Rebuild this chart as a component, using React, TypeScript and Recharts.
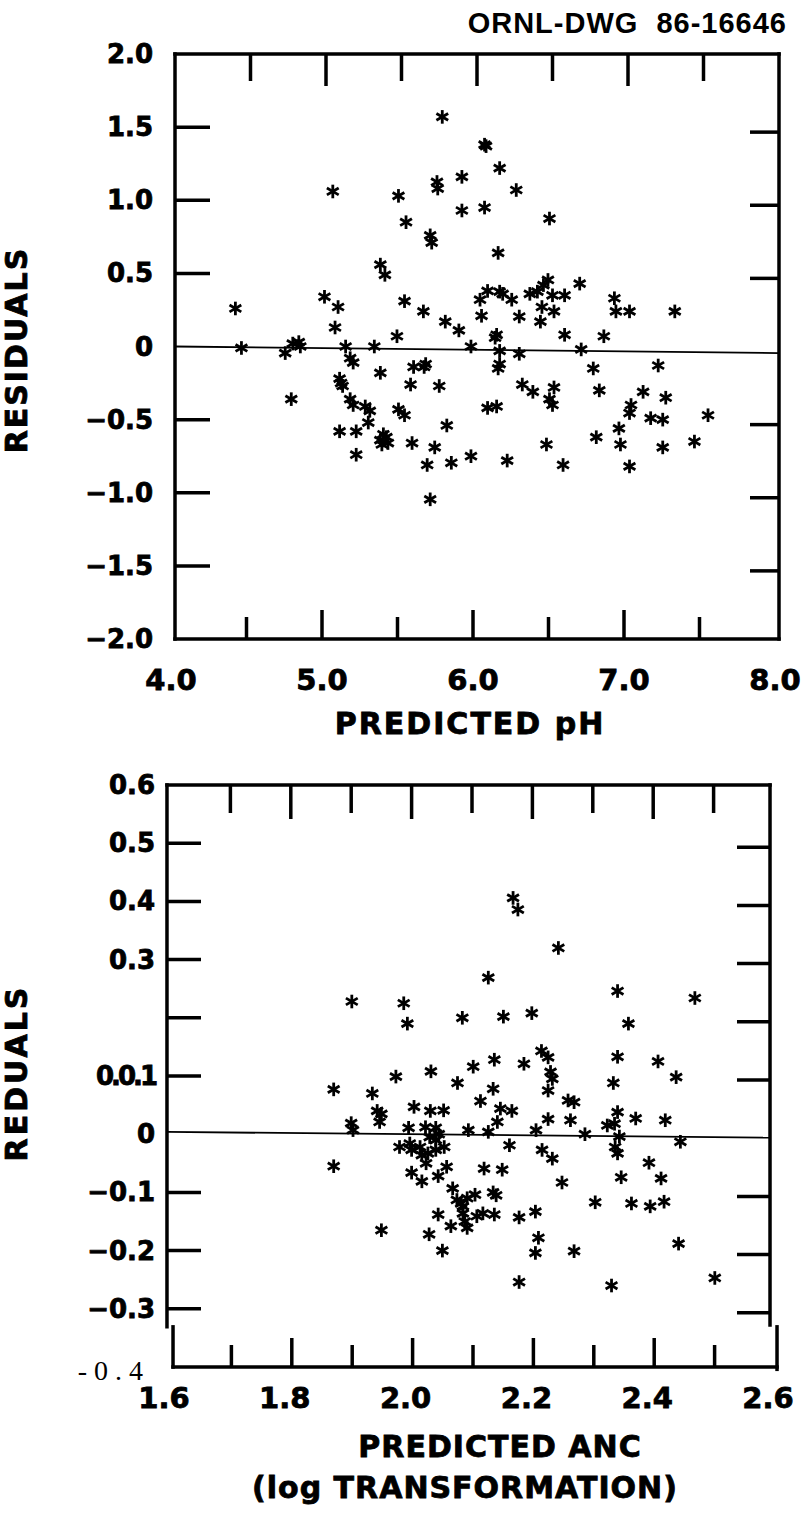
import React from 'react';
import { ScatterChart, Scatter, XAxis, YAxis, ReferenceLine } from 'recharts';

// ---------- DATA: top panel (predicted pH vs residuals) ----------
const phPredicted = [
  5.77, 6.05, 6.06, 6.15, 5.9, 5.735, 5.74, 6.26, 5.045, 5.48, 5.9, 6.05, 6.48, 5.53, 5.69, 5.7,
  6.14, 5.36, 5.39, 6.47, 6.44, 6.68, 6.07, 6.15, 6.17, 6.35, 6.4, 6.5, 6.58, 6.02, 6.23, 4.99,
  5.08, 5.52, 4.4, 6.91, 6.92, 7.01, 7.31, 6.43, 6.51, 5.645, 6.03, 6.28, 5.79, 6.42, 5.06, 5.88,
  6.13, 6.12, 5.47, 6.58, 6.84, 4.44, 4.78, 4.82, 4.83, 5.13, 5.32, 5.96, 6.15, 6.28, 6.69,
  4.73, 5.16, 5.18, 6.15, 6.14, 6.77, 7.2, 5.36, 5.58, 5.65, 5.66, 5.09, 5.1, 5.11, 5.56, 5.75,
  4.77, 6.3, 6.37, 6.51, 6.48, 6.5, 6.81, 7.1, 7.25, 5.16, 5.18, 5.26, 5.29, 5.48, 5.52, 5.28,
  6.07, 6.13, 7.02, 7.01, 7.15, 7.23, 7.53, 5.09, 5.2, 5.38, 5.4, 5.36, 5.37, 5.41, 5.57, 5.8,
  5.72, 6.94, 6.95, 6.79, 6.46, 7.23, 7.44, 5.2, 5.67, 5.83, 5.96, 6.2, 6.57, 7.01, 5.69,
];
const phResiduals = [
  1.57, 1.38, 1.37, 1.22, 1.16, 1.125, 1.08, 1.07, 1.06, 1.03, 0.93, 0.95, 0.875, 0.85, 0.76, 0.71,
  0.64, 0.56, 0.49, 0.455, 0.42, 0.43, 0.38, 0.375, 0.36, 0.36, 0.375, 0.35, 0.35, 0.32, 0.32, 0.34,
  0.27, 0.31, 0.26, 0.33, 0.24, 0.24, 0.24, 0.27, 0.24, 0.24, 0.21, 0.205, 0.17, 0.17, 0.13, 0.11,
  0.08, 0.06, 0.07, 0.08, 0.07, -0.01, 0.02, 0.03, 0.0, 0.0, 0.0, 0.0, -0.03, -0.05, -0.02,
  -0.045, -0.08, -0.11, -0.12, -0.15, -0.15, -0.13, -0.18, -0.14, -0.14, -0.12, -0.22, -0.25, -0.27, -0.26, -0.27,
  -0.36, -0.26, -0.31, -0.28, -0.36, -0.4, -0.3, -0.31, -0.35, -0.36, -0.4, -0.41, -0.44, -0.43, -0.47, -0.52,
  -0.42, -0.41, -0.4, -0.455, -0.49, -0.5, -0.47, -0.58, -0.58, -0.6, -0.62, -0.64, -0.67, -0.66, -0.66, -0.54,
  -0.69, -0.56, -0.67, -0.62, -0.67, -0.69, -0.65, -0.74, -0.81, -0.795, -0.75, -0.78, -0.81, -0.82, -1.045,
];

// ---------- DATA: bottom panel (predicted ANC, log) ----------
const ancPredicted = [
  2.168, 2.176, 2.243, 2.127, 2.341, 1.901, 1.987, 1.993, 2.469, 2.084, 2.152, 2.199, 2.359, 2.215, 2.226,
  2.341, 2.408, 2.137, 2.102, 2.186, 2.032, 1.974, 2.23, 2.233, 2.438, 2.076, 2.334, 1.871, 1.935, 2.135,
  2.226, 2.114, 2.259, 2.269, 1.943, 1.95, 1.947, 2.004, 2.031, 2.053, 2.147, 2.166, 2.341, 2.371, 2.42,
  2.226, 2.263, 2.142, 2.324, 2.336, 1.9, 1.903, 1.995, 2.023, 2.04, 2.094, 2.127, 2.206, 2.287, 2.344,
  2.445, 1.98, 1.997, 2.014, 2.027, 2.04, 2.054, 2.017, 2.024, 2.04, 2.0, 2.03, 2.045, 2.162, 2.216,
  2.233, 2.337, 2.341, 1.871, 2.058, 2.0, 2.017, 2.044, 2.12, 2.15, 2.393, 2.347, 2.413, 2.249, 2.068,
  2.075, 2.082, 2.092, 2.085, 2.105, 2.135, 2.14, 2.304, 2.364, 2.395, 2.418, 2.044, 2.085, 2.088, 2.108,
  2.118, 2.137, 2.178, 2.205, 2.065, 2.092, 1.95, 2.029, 2.21, 2.051, 2.205, 2.269, 2.442, 2.178, 2.331,
  2.502,
];
const ancResiduals = [
  0.406, 0.386, 0.32, 0.269, 0.246, 0.228, 0.225, 0.19, 0.234, 0.2, 0.202, 0.208, 0.19, 0.143, 0.132,
  0.133, 0.125, 0.128, 0.116, 0.121, 0.108, 0.099, 0.107, 0.095, 0.098, 0.088, 0.088, 0.077, 0.07, 0.078,
  0.075, 0.057, 0.058, 0.055, 0.04, 0.035, 0.021, 0.047, 0.04, 0.041, 0.044, 0.04, 0.038, 0.027, 0.024,
  0.026, 0.024, 0.021, 0.015, 0.018, 0.019, 0.007, 0.011, 0.012, 0.011, 0.007, 0.004, 0.007, 0.0, -0.004,
  -0.013, -0.022, -0.016, -0.022, -0.033, -0.01, -0.022, -0.036, -0.05, -0.027, -0.027, -0.005, 0.0, -0.019, -0.027,
  -0.042, -0.022, -0.033, -0.055, -0.056, -0.066, -0.081, -0.072, -0.059, -0.061, -0.049, -0.074, -0.076, -0.083, -0.093,
  -0.113, -0.119, -0.11, -0.124, -0.104, -0.1, -0.105, -0.117, -0.119, -0.124, -0.116, -0.138, -0.136, -0.15, -0.141,
  -0.136, -0.138, -0.143, -0.133, -0.158, -0.161, -0.165, -0.172, -0.178, -0.2, -0.204, -0.201, -0.188, -0.254, -0.26,
  -0.247,
];

// ---------- TICKS ----------
const phXTicks = [4, 4.5, 5, 5.5, 6, 6.5, 7, 7.5, 8];
const phXTickLabels = ['4.0', '', '5.0', '', '6.0', '', '7.0', '', '8.0'];
const phYTicks = [-2, -1.5, -1, -0.5, 0, 0.5, 1, 1.5, 2];
const phYTickLabels = ['\u22122.0', '\u22121.5', '\u22121.0', '\u22120.5', '0', '0.5', '1.0', '1.5', '2.0'];

const ancXTicks = [1.6, 1.7, 1.8, 1.9, 2.0, 2.1, 2.2, 2.3, 2.4, 2.5, 2.6];
const ancXTickLabels = ['1.6', '', '1.8', '', '2.0', '', '2.2', '', '2.4', '', '2.6'];
const ancYTicks = [-0.4, -0.3, -0.2, -0.1, 0, 0.1, 0.2, 0.3, 0.4, 0.5, 0.6];
const ancYTickLabels = ['- 0 . 4', '\u22120.3', '\u22120.2', '\u22120.1', '0', '0.0.1', '', '0.3', '0.4', '0.5', '0.6'];

const phData = phPredicted.map((x, i) => ({ x, y: phResiduals[i] }));
const ancData = ancPredicted.map((x, i) => ({ x, y: ancResiduals[i] }));

// ---------- STYLE / LAYOUT ----------
const FONT = '"DejaVu Sans", Arial, sans-serif';
const INK = '#000';
const AX_H = 60; // x-axis band height
const AX_W = 60; // y-axis band width
const LW = 3.5;
const HEAVY = { fontFamily: FONT, fontWeight: 'bold' as const, fill: INK, stroke: INK, strokeWidth: 0.8 };

const TOP = { w: 805, h: 720, left: 175, right: 779, top: 54, bottom: 639 };
const BOT = { w: 805, h: 753, offset: 760, left: 170, right: 774, top: 25, bottom: 607 };

const idx = (arr: number[], v: number) => arr.findIndex((t) => Math.abs(t - v) < 1e-6);

const Asterisk = (props: any) => {
  const { cx, cy } = props;
  if (cx == null || cy == null || isNaN(cx) || isNaN(cy)) return <g />;
  const r = 6.8;
  const dx = r * 0.866;
  const dy = r * 0.5;
  return (
    <g stroke={INK} strokeWidth={2.8}>
      <line x1={cx} y1={cy - r} x2={cx} y2={cy + r} />
      <line x1={cx - dx} y1={cy - dy} x2={cx + dx} y2={cy + dy} />
      <line x1={cx - dx} y1={cy + dy} x2={cx + dx} y2={cy - dy} />
    </g>
  );
};

const PhXTick = (props: any) => {
  const { x, payload } = props;
  const i = idx(phXTicks, payload.value);
  const label = phXTickLabels[i] || '';
  const major = label !== '';
  const inner = i > 0 && i < phXTicks.length - 1;
  return (
    <g>
      {inner && (
        <line x1={x - 4} y1={TOP.bottom} x2={x - 4} y2={TOP.bottom - (major ? 29 : 22)} stroke={INK} strokeWidth={LW} />
      )}
      {inner && <line x1={x} y1={TOP.top} x2={x} y2={TOP.top + (major ? 32 : 27)} stroke={INK} strokeWidth={LW} />}
      {label && (
        <text x={x - 4} y={690} textAnchor="middle" fontSize={29} {...HEAVY}>
          {label}
        </text>
      )}
    </g>
  );
};

const PhYTick = (props: any) => {
  const { y, payload } = props;
  const v = payload.value;
  const i = idx(phYTicks, v);
  const label = phYTickLabels[i] || '';
  const inner = Math.abs(v) > 1e-6 && Math.abs(v) < 1.99;
  return (
    <g>
      {inner && <line x1={TOP.left} y1={y} x2={TOP.left + 35} y2={y} stroke={INK} strokeWidth={LW} />}
      {inner && <line x1={TOP.right - 29} y1={y + 5} x2={TOP.right} y2={y + 5} stroke={INK} strokeWidth={LW} />}
      <text x={153} y={y + 9} textAnchor="end" fontSize={26} {...HEAVY}>
        {label}
      </text>
    </g>
  );
};

const AncXTick = (props: any) => {
  const { x, payload } = props;
  const i = idx(ancXTicks, payload.value);
  const label = ancXTickLabels[i] || '';
  const major = label !== '';
  const inner = i > 0 && i < ancXTicks.length - 1;
  return (
    <g>
      {inner && (
        <line x1={x + 1} y1={BOT.bottom} x2={x + 1} y2={BOT.bottom - (major ? 29 : 22)} stroke={INK} strokeWidth={LW} />
      )}
      {inner && <line x1={x} y1={BOT.top} x2={x} y2={BOT.top + (major ? 34 : 28)} stroke={INK} strokeWidth={LW} />}
      {label && (
        <text x={x - 6} y={648} textAnchor="middle" fontSize={29} {...HEAVY}>
          {label}
        </text>
      )}
    </g>
  );
};

const AncYTick = (props: any) => {
  const { y, payload } = props;
  const v = payload.value;
  const i = idx(ancYTicks, v);
  const label = ancYTickLabels[i] || '';
  const inner = Math.abs(v) > 1e-6 && v < 0.55 && v > -0.35;
  const serif = i === 0;
  const squeezed = label === '0.0.1';
  return (
    <g>
      {inner && <line x1={BOT.left - 3} y1={y} x2={BOT.left + 31} y2={y} stroke={INK} strokeWidth={LW} />}
      {inner && <line x1={BOT.right - 37} y1={y + 4} x2={BOT.right - 4} y2={y + 4} stroke={INK} strokeWidth={LW} />}
      {label && serif && (
        <text
          x={143}
          y={y + 13}
          textAnchor="end"
          fontFamily='"Liberation Serif", "DejaVu Serif", serif'
          fontWeight="normal"
          fontSize={28}
          fill={INK}
          style={{ whiteSpace: 'pre' }}
        >
          {label}
        </text>
      )}
      {label && !serif && (
        <text x={155} y={y + 9} textAnchor="end" fontSize={26} letterSpacing={squeezed ? -3 : 0} {...HEAVY}>
          {label}
        </text>
      )}
    </g>
  );
};

const frame = { stroke: INK, strokeWidth: LW, strokeLinecap: 'square' as const, ifOverflow: 'visible' as const };

export default function App() {
  return (
    <div style={{ position: 'absolute', left: 0, top: 0, width: 805, height: 1513, background: '#fff', overflow: 'hidden' }}>
      <div style={{ position: 'absolute', left: 0, top: 0 }}>
        <ScatterChart
          width={TOP.w}
          height={TOP.h}
          margin={{ top: TOP.top, right: TOP.w - TOP.right, bottom: TOP.h - TOP.bottom - AX_H, left: TOP.left - AX_W }}
        >
          <XAxis
            type="number"
            dataKey="x"
            domain={[4, 8]}
            ticks={phXTicks}
            interval={0}
            height={AX_H}
            axisLine={false}
            tickLine={false}
            tick={PhXTick}
            allowDataOverflow
          />
          <YAxis
            type="number"
            dataKey="y"
            domain={[-2, 2]}
            ticks={phYTicks}
            interval={0}
            width={AX_W}
            axisLine={false}
            tickLine={false}
            tick={PhYTick}
            allowDataOverflow
          />
          <ReferenceLine segment={[{ x: 4, y: 2 }, { x: 8, y: 2 }]} {...frame} />
          <ReferenceLine segment={[{ x: 4, y: -2 }, { x: 8, y: -2 }]} {...frame} />
          <ReferenceLine segment={[{ x: 4, y: -2 }, { x: 4, y: 2 }]} {...frame} />
          <ReferenceLine segment={[{ x: 8, y: -2 }, { x: 8, y: 2 }]} {...frame} />
          <ReferenceLine
            segment={[{ x: 4, y: 0 }, { x: 8, y: -0.045 }]}
            stroke={INK}
            strokeWidth={1.8}
            ifOverflow="visible"
          />
          <Scatter data={phData} shape={Asterisk} isAnimationActive={false} />
        </ScatterChart>
      </div>

      <div style={{ position: 'absolute', left: 0, top: BOT.offset }}>
        <ScatterChart
          width={BOT.w}
          height={BOT.h}
          margin={{ top: BOT.top, right: BOT.w - BOT.right, bottom: BOT.h - BOT.bottom - AX_H, left: BOT.left - AX_W }}
        >
          <XAxis
            type="number"
            dataKey="x"
            domain={[1.6, 2.6]}
            ticks={ancXTicks}
            interval={0}
            height={AX_H}
            axisLine={false}
            tickLine={false}
            tick={AncXTick}
            allowDataOverflow
          />
          <YAxis
            type="number"
            dataKey="y"
            domain={[-0.4, 0.6]}
            ticks={ancYTicks}
            interval={0}
            width={AX_W}
            axisLine={false}
            tickLine={false}
            tick={AncYTick}
            allowDataOverflow
          />
          <ReferenceLine segment={[{ x: 1.595, y: 0.6 }, { x: 2.5934, y: 0.6 }]} {...frame} />
          <ReferenceLine segment={[{ x: 1.595, y: 0.6 }, { x: 1.595, y: -0.331 }]} {...frame} />
          <ReferenceLine segment={[{ x: 2.5934, y: 0.6 }, { x: 2.5934, y: -0.328 }]} {...frame} />
          <ReferenceLine segment={[{ x: 1.605, y: -0.331 }, { x: 1.605, y: -0.4 }]} {...frame} />
          <ReferenceLine segment={[{ x: 2.605, y: -0.331 }, { x: 2.605, y: -0.404 }]} {...frame} />
          <ReferenceLine segment={[{ x: 1.605, y: -0.4 }, { x: 2.605, y: -0.4 }]} {...frame} />
          <ReferenceLine
            segment={[{ x: 1.595, y: 0.004 }, { x: 2.5934, y: -0.006 }]}
            stroke={INK}
            strokeWidth={1.8}
            ifOverflow="visible"
          />
          <Scatter data={ancData} shape={Asterisk} isAnimationActive={false} />
        </ScatterChart>
      </div>

      <svg width={805} height={1513} style={{ position: 'absolute', left: 0, top: 0, pointerEvents: 'none' }}>
        <text
          x={787}
          y={33}
          textAnchor="end"
          fontFamily='"Liberation Sans", Arial, sans-serif'
          fontWeight="bold"
          fontSize={29}
          letterSpacing={1}
          fill={INK}
        >
          {'ORNL-DWG\u00a0\u00a086-16646'}
        </text>
        <text
          x={0}
          y={0}
          transform="translate(27,350) rotate(-90)"
          textAnchor="middle"
          fontSize={30}
          letterSpacing={2}
          {...HEAVY}
        >
          RESIDUALS
        </text>
        <text x={470} y={734} textAnchor="middle" fontSize={30} letterSpacing={2} {...HEAVY}>
          PREDICTED pH
        </text>
        <text
          x={0}
          y={0}
          transform="translate(27,1073) rotate(-90)"
          textAnchor="middle"
          fontSize={30}
          letterSpacing={3}
          {...HEAVY}
        >
          REDUALS
        </text>
        <text x={500} y={1457} textAnchor="middle" fontSize={30} letterSpacing={1} {...HEAVY}>
          PREDICTED ANC
        </text>
        <text x={465} y={1498} textAnchor="middle" fontSize={30} letterSpacing={1} {...HEAVY}>
          (log TRANSFORMATION)
        </text>
      </svg>
    </div>
  );
}
